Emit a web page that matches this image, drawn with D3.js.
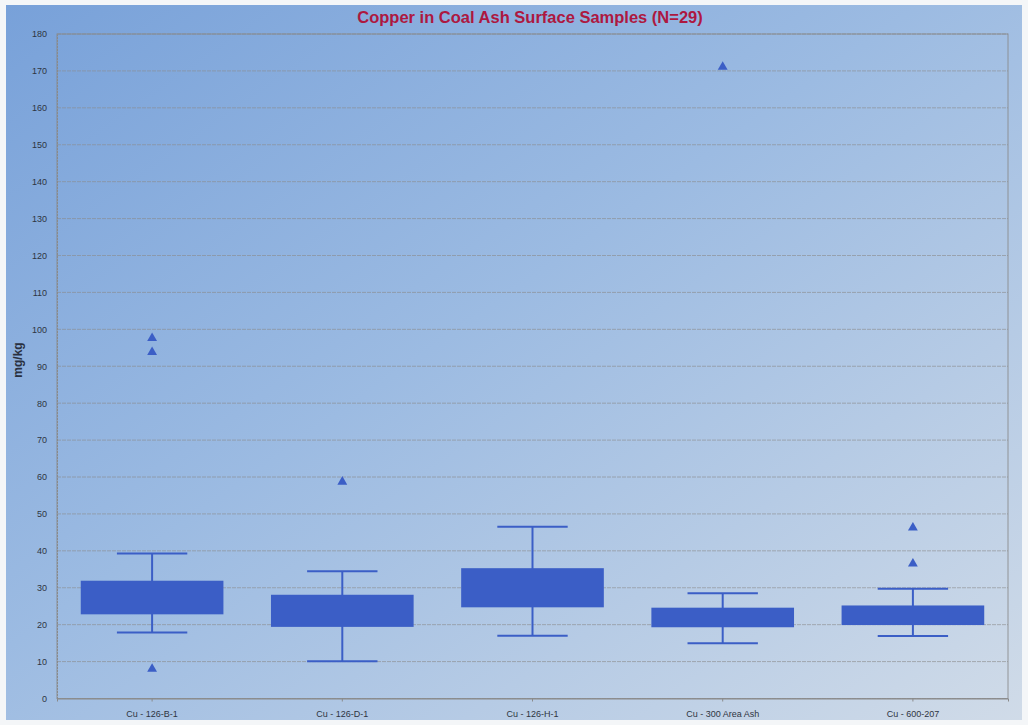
<!DOCTYPE html>
<html>
<head>
<meta charset="utf-8">
<script src="https://cdn.jsdelivr.net/npm/d3@7"></script>
<style>
  html, body { margin: 0; padding: 0; background: #ffffff; }
  svg { display: block; }
  text { font-family: "Liberation Sans", Arial, sans-serif; }
</style>
</head>
<body>
<svg id="chart" width="1028" height="725"></svg>
<script>
// Box-plot summary for each sample group (mg/kg)
const categories = ["Cu - 126-B-1", "Cu - 126-D-1", "Cu - 126-H-1", "Cu - 300 Area Ash", "Cu - 600-207"];
const whiskerLow  = [17.9, 10.1, 17.0, 15.0, 16.9];
const boxLow      = [22.8, 19.4, 24.7, 19.3, 19.9];
const boxHigh     = [31.9, 28.1, 35.3, 24.6, 25.2];
const whiskerHigh = [39.3, 34.5, 46.5, 28.5, 29.7];
const outliers = [
  [97.6, 93.8, 8.0],
  [58.7],
  [],
  [171.1],
  [46.3, 36.5]
];
const yTicks = d3.range(0, 181, 10);

const svg = d3.select("#chart");
const W = 1028, H = 725;
const margin = { left: 57, right: 20, top: 34, bottom: 26.5 };
const plotRight = W - margin.right;
const plotBottom = H - margin.bottom;

// Backdrop: saturated blue at top-left fading to pale grey-blue
const defs = svg.append("defs");
const grad = defs.append("linearGradient")
  .attr("id", "bg").attr("x1", "0").attr("y1", "0").attr("x2", "1").attr("y2", "1");
grad.append("stop").attr("offset", "0%").attr("stop-color", "#78a1d9");
grad.append("stop").attr("offset", "45%").attr("stop-color", "#9cbbe2");
grad.append("stop").attr("offset", "100%").attr("stop-color", "#d0dbe8");

svg.append("rect").attr("width", W).attr("height", H).attr("fill", "#f4f6f8");
svg.append("rect").attr("x", 6).attr("y", 5).attr("width", W - 12).attr("height", H - 10)
  .attr("fill", "url(#bg)");

const x = d3.scaleBand().domain(categories).range([margin.left, plotRight]).paddingInner(0).paddingOuter(0);
const y = d3.scaleLinear().domain([0, 180]).range([plotBottom, margin.top]);

// Horizontal gridlines
svg.append("g")
  .selectAll("line").data(yTicks).join("line")
  .attr("x1", margin.left).attr("x2", plotRight)
  .attr("y1", d => y(d)).attr("y2", d => y(d))
  .attr("stroke", "#8a8a8a").attr("stroke-opacity", 0.6)
  .attr("stroke-width", 1).attr("stroke-dasharray", "4,1");

// Plot frame
svg.append("rect")
  .attr("x", margin.left).attr("y", margin.top)
  .attr("width", plotRight - margin.left).attr("height", plotBottom - margin.top)
  .attr("fill", "none").attr("stroke", "#8a8a8a").attr("stroke-opacity", 0.85).attr("stroke-width", 1);

// Y axis
const yAxis = svg.append("g")
  .attr("transform", `translate(${margin.left},0)`)
  .call(d3.axisLeft(y).tickValues(yTicks).tickSize(0).tickPadding(10));
yAxis.select(".domain").attr("stroke", "#8a8a8a").attr("stroke-dasharray", "2,1");
yAxis.selectAll("text").attr("font-size", 9).attr("fill", "#2e3542");

// X axis
const xAxis = svg.append("g")
  .attr("transform", `translate(0,${plotBottom})`)
  .call(d3.axisBottom(x).tickSize(3).tickPadding(9));
xAxis.select(".domain").attr("stroke", "#8a8a8a");
xAxis.selectAll(".tick line").attr("stroke", "#8a8a8a");
xAxis.selectAll("text").attr("font-size", 9).attr("fill", "#2e3542");

// Title and axis label
svg.append("text")
  .attr("x", 530).attr("y", 23)
  .attr("text-anchor", "middle")
  .attr("font-size", 16.5).attr("font-weight", "bold")
  .attr("fill", "#ad1840")
  .text("Copper in Coal Ash Surface Samples (N=29)");

svg.append("text")
  .attr("transform", "translate(22,360) rotate(-90)")
  .attr("text-anchor", "middle")
  .attr("font-size", 12).attr("font-weight", "bold")
  .attr("fill", "#2a3140")
  .text("mg/kg");

// Box plots
const markColor = "#3b5ec6";
const bw = x.bandwidth();
const boxW = bw * 0.75;
const capW = bw * 0.37;

const groups = svg.append("g").selectAll("g")
  .data(categories.map((c, i) => ({
    c, lo: whiskerLow[i], q1: boxLow[i], q3: boxHigh[i], hi: whiskerHigh[i], out: outliers[i]
  })))
  .join("g")
  .attr("transform", d => `translate(${x(d.c) + bw / 2},0)`);

// Whisker stems
groups.append("line")
  .attr("x1", 0).attr("x2", 0)
  .attr("y1", d => y(d.hi)).attr("y2", d => y(d.lo))
  .attr("stroke", markColor).attr("stroke-width", 2);

// Whisker caps
groups.selectAll("line.cap")
  .data(d => [d.lo, d.hi]).join("line")
  .attr("class", "cap")
  .attr("x1", -capW / 2).attr("x2", capW / 2)
  .attr("y1", v => y(v)).attr("y2", v => y(v))
  .attr("stroke", markColor).attr("stroke-width", 2);

// Interquartile boxes
groups.append("rect")
  .attr("x", -boxW / 2).attr("width", boxW)
  .attr("y", d => y(d.q3)).attr("height", d => y(d.q1) - y(d.q3))
  .attr("fill", markColor);

// Outlier markers
const tri = d3.symbol().type(d3.symbolTriangle).size(42);
groups.selectAll("path.out")
  .data(d => d.out).join("path")
  .attr("class", "out")
  .attr("transform", v => `translate(0,${y(v)})`)
  .attr("d", tri)
  .attr("fill", markColor);
</script>
</body>
</html>
